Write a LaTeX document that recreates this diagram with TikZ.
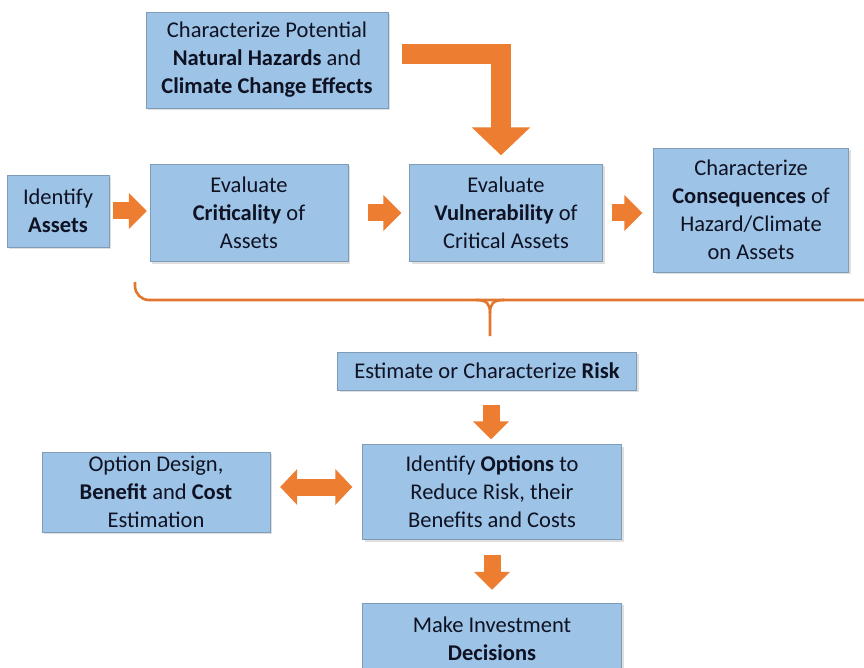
\documentclass[tikz,border=0pt]{standalone}
\usepackage{fontspec}
\setmainfont{Carlito}
\usetikzlibrary{arrows.meta,shadows}
\definecolor{boxblue}{RGB}{157,195,230}
\definecolor{arroworange}{RGB}{237,125,49}
\definecolor{textnavy}{RGB}{15,18,35}
\tikzset{
  box/.style={fill=boxblue, draw=boxblue!80!black, line width=0.4pt,
    align=center, text=textnavy, inner sep=2pt,
    font=\fontsize{22.5}{28}\selectfont,
    drop shadow={opacity=0.25, shadow xshift=2pt, shadow yshift=-2pt}},
  blockarrow/.style={draw=arroworange, line width=17pt, line join=miter,
    -{Triangle[width=35pt,length=18pt]}},
  bentarrow/.style={draw=arroworange, line width=20pt, line join=miter,
    -{Triangle[width=57pt,length=28pt]}},
  twoway/.style={draw=arroworange, line width=17pt,
    {Triangle[width=35pt,length=17pt]}-{Triangle[width=35pt,length=17pt]}},
  bracket/.style={draw=arroworange!95!black, line width=2.6pt},
}
\begin{document}
\begin{tikzpicture}[x=1pt,y=-1pt]
\useasboundingbox (0,0) rectangle (864,668);

% boxes
\node[box, minimum width=242, minimum height=96] (hazards) at (267,60)
  {Characterize Potential\\\textbf{Natural Hazards} and\\\textbf{Climate Change Effects}};
\node[box, minimum width=102, minimum height=72] (assets) at (58,211)
  {Identify\\\textbf{Assets}};
\node[box, minimum width=198, minimum height=97] (crit) at (249,213)
  {Evaluate\\\textbf{Criticality} of\\Assets};
\node[box, minimum width=193, minimum height=97] (vuln) at (506,213)
  {Evaluate\\\textbf{Vulnerability} of\\Critical Assets};
\node[box, minimum width=195, minimum height=124] (conseq) at (751,210)
  {Characterize\\\textbf{Consequences} of\\Hazard/Climate\\on Assets};
\node[box, minimum width=299, minimum height=38] (risk) at (487,371)
  {Estimate or Characterize \textbf{Risk}};
\node[box, minimum width=259, minimum height=95] (options) at (492,492)
  {Identify \textbf{Options} to\\Reduce Risk, their\\Benefits and Costs};
\node[box, minimum width=228, minimum height=80] (design) at (156,492)
  {Option Design,\\\textbf{Benefit} and \textbf{Cost}\\Estimation};
\node[box, minimum width=259, minimum height=72] (decide) at (492,639)
  {Make Investment\\\textbf{Decisions}};

% arrows
\draw[bentarrow] ([xshift=14pt,yshift=6pt]hazards.east) -| ([xshift=-5pt,yshift=9pt]vuln.north);
\draw[blockarrow] ([xshift=4pt]assets.east) -- ([xshift=-3pt]assets.east -| crit.west);
\draw[blockarrow] ([xshift=20pt]crit.east) -- ([xshift=-8pt]crit.east -| vuln.west);
\draw[blockarrow] ([xshift=9pt]vuln.east) -- ([xshift=-11pt]vuln.east -| conseq.west);
\draw[blockarrow] ([xshift=4pt,yshift=-15pt]risk.south) -- ([yshift=5pt,xshift=-1pt]options.north);
\draw[blockarrow] ([yshift=-15pt]options.south) -- ([yshift=13pt]decide.north);
\draw[twoway] ([xshift=10pt,yshift=5pt]design.east) -- ([xshift=-10pt,yshift=5pt]design.east -| options.west);

% bracket
\coordinate (bl) at (135,282);
\coordinate (br) at (864,300);
\coordinate (tip) at (490,336);
\draw[bracket, rounded corners=14pt] (bl) |- (br);
\draw[bracket] (476,300) .. controls (487,300) and (490,304) .. (490,313) -- (tip);
\draw[bracket] (504,300) .. controls (493,300) and (490,304) .. (490,313);
\end{tikzpicture}
\end{document}
